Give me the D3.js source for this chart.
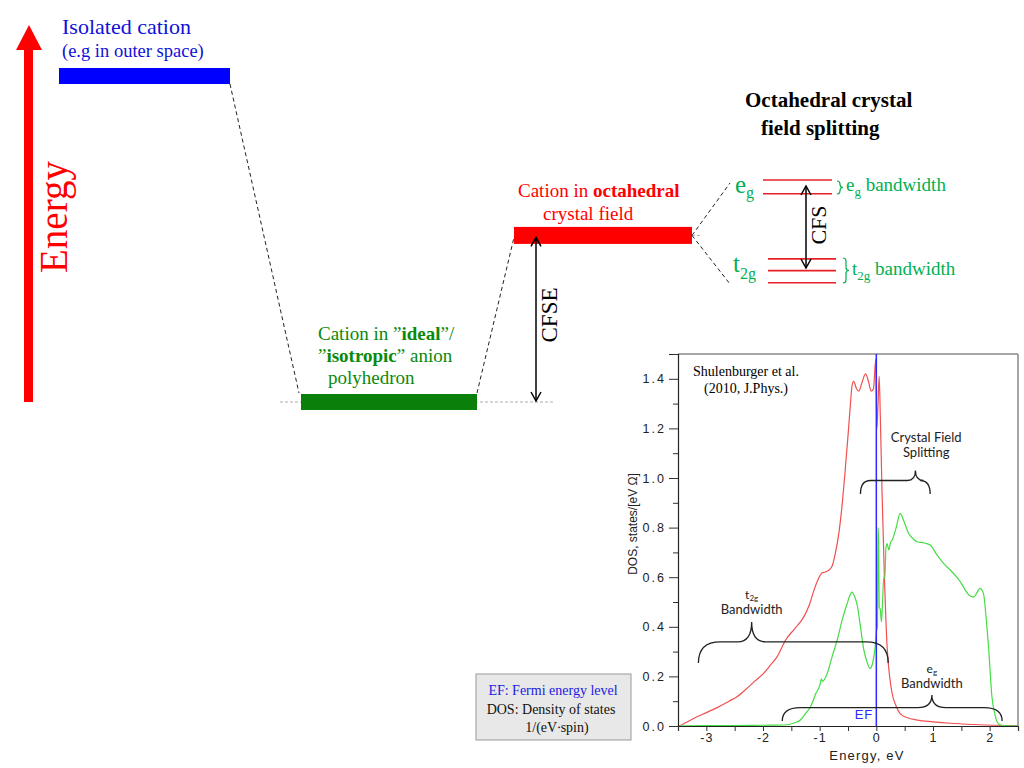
<!DOCTYPE html>
<html><head><meta charset="utf-8">
<script src="https://cdn.jsdelivr.net/npm/d3@7"></script>
<style>body{margin:0;background:#fff;} svg{display:block;}</style>
</head><body>
<svg id="c" width="1024" height="768"></svg>
<script>
// ---------------- DATA ----------------
// DOS curves (energy in eV, DOS in states/[eV Ω])
const redEnergy = [-3.5,-3.45,-3.35,-3.2,-3.0,-2.8,-2.6,-2.46,-2.3,-2.15,-1.99,-1.87,-1.75,-1.6,-1.45,-1.28,-1.18,-1.1,-1.03,-0.96,-0.9,-0.84,-0.78,-0.72,-0.66,-0.6,-0.55,-0.5,-0.46,-0.43,-0.4,-0.35,-0.31,-0.26,-0.19,-0.14,-0.09,-0.05,-0.01,0.01,0.03,0.05,0.07,0.1,0.14,0.19,0.24,0.28,0.35,0.42,0.55,0.72,1.0,1.3,1.7,2.07,2.5];
const redDos    = [0,0.003,0.015,0.033,0.054,0.075,0.1,0.118,0.148,0.18,0.212,0.245,0.28,0.347,0.39,0.44,0.49,0.548,0.59,0.617,0.621,0.628,0.645,0.7,0.78,0.9,1.03,1.17,1.29,1.37,1.39,1.36,1.35,1.38,1.42,1.39,1.35,1.36,1.48,1.2,1.3,1.41,1.25,0.95,0.62,0.32,0.19,0.13,0.08,0.05,0.033,0.024,0.017,0.011,0.006,0.003,0.001];
const greenEnergy = [-3.5,-3.0,-2.5,-2.0,-1.63,-1.45,-1.34,-1.25,-1.16,-1.07,-0.99,-0.97,-0.95,-0.87,-0.78,-0.69,-0.6,-0.52,-0.46,-0.43,-0.38,-0.34,-0.28,-0.22,-0.16,-0.11,-0.07,-0.02,0.0,0.02,0.03,0.04,0.05,0.07,0.09,0.11,0.13,0.15,0.17,0.19,0.22,0.25,0.28,0.35,0.42,0.48,0.57,0.65,0.72,0.85,0.95,1.07,1.19,1.3,1.42,1.5,1.57,1.65,1.72,1.78,1.83,1.89,1.94,1.98,2.04,2.09,2.13,2.2,2.5];
const greenDos    = [0,0.002,0.002,0.003,0.004,0.012,0.024,0.05,0.078,0.13,0.17,0.19,0.18,0.21,0.28,0.347,0.43,0.49,0.53,0.54,0.52,0.49,0.4,0.306,0.255,0.232,0.25,0.32,0.38,0.4,0.8,0.75,0.48,0.47,0.42,0.5,0.6,0.595,0.72,0.735,0.71,0.74,0.75,0.8,0.857,0.83,0.776,0.755,0.743,0.738,0.73,0.69,0.655,0.63,0.6,0.575,0.548,0.525,0.52,0.54,0.555,0.535,0.43,0.32,0.118,0.05,0.017,0.003,0];
const fermiEnergy = 0;
const yTickValues = [0,0.2,0.4,0.6,0.8,1.0,1.2,1.4];
const yMinorValues = [0.1,0.3,0.5,0.7,0.9,1.1,1.3,1.5];
const xTickValues = [-3,-2,-1,0,1,2];
const xMinorValues = [-3.5,-2.5,-1.5,-0.5,0.5,1.5,2.5];
// schematic energy levels (relative units)
const levelNames  = ["isolated","ideal","octahedral"];
const levelEnergy = [1.0, 0.0, 0.511];
const egLevels  = [0.681, 0.639];
const t2gLevels = [0.439, 0.403, 0.366];

// ---------------- DRAW ----------------
const svg = d3.select("#c");
const serif = "'Liberation Serif','Times New Roman',serif";
const sans  = "'Liberation Sans',Arial,sans-serif";
const cal   = "Lato,'Open Sans',sans-serif";
const egGreen = "#00b050";

// ---- schematic ----
const yLev = d3.scaleLinear().domain([0,1]).range([402,76]);
const bars = [
  {x0:59,  x1:230, h:16, color:"#0000ff"},
  {x0:301, x1:477, h:16, color:"#0a800a"},
  {x0:514, x1:692, h:17, color:"#ff0000"}
];
// energy arrow
svg.append("path")
  .attr("d","M24,402 L24,50 L16,50 L29,25 L42,50 L33,50 L33,402 Z")
  .attr("fill","#ff0000");
svg.append("text").attr("transform","translate(67,217) rotate(-90)")
  .attr("text-anchor","middle").attr("font-family",serif).attr("font-size",39)
  .attr("fill","#ff0000").text("Energy");

// grey reference dashed lines
svg.append("line").attr("x1",280).attr("x2",553).attr("y1",yLev(0)).attr("y2",yLev(0))
  .attr("stroke","#999").attr("stroke-width",0.8).attr("stroke-dasharray","3,2");
svg.append("line").attr("x1",692).attr("x2",702).attr("y1",yLev(0.511)).attr("y2",yLev(0.511))
  .attr("stroke","#999").attr("stroke-width",0.8).attr("stroke-dasharray","3,2");

// bars
levelEnergy.forEach((e,i)=>{
  const b = bars[i];
  svg.append("rect").attr("x",b.x0).attr("y",yLev(e)-b.h/2).attr("width",b.x1-b.x0).attr("height",b.h).attr("fill",b.color);
});

// dashed connectors
const dash = (x1,y1,x2,y2)=>svg.append("line").attr("x1",x1).attr("y1",y1).attr("x2",x2).attr("y2",y2)
  .attr("stroke","#222").attr("stroke-width",1).attr("stroke-dasharray","4,3");
dash(230, yLev(1)+8, 299, yLev(0)-9);
dash(477, yLev(0)-9, 514, yLev(0.511)+2);
dash(692, yLev(0.511), 730, 183);
dash(692, yLev(0.511), 730, 284);

// double arrows
function dArrow(x, yTop, yBot){
  const g = svg.append("g").attr("stroke","#000").attr("fill","none").attr("stroke-width",1.5);
  g.append("line").attr("x1",x).attr("x2",x).attr("y1",yTop).attr("y2",yBot);
  g.append("path").attr("d",`M${x-5},${yTop+9} L${x},${yTop} L${x+5},${yTop+9}`);
  g.append("path").attr("d",`M${x-5},${yBot-9} L${x},${yBot} L${x+5},${yBot-9}`);
}
dArrow(536, yLev(0.511)+2, yLev(0)-1);
svg.append("text").attr("transform","translate(557,315) rotate(-90)")
  .attr("text-anchor","middle").attr("font-family",serif).attr("font-size",23).text("CFSE");

// texts
svg.append("text").attr("x",62).attr("y",34).attr("font-family",serif).attr("font-size",22).attr("fill","#1010d8").text("Isolated cation");
svg.append("text").attr("x",62).attr("y",57).attr("font-family",serif).attr("font-size",18.5).attr("fill","#1010d8").text("(e.g in outer space)");

const tOct = svg.append("text").attr("x",518).attr("y",197).attr("font-family",serif).attr("font-size",19).attr("fill","#ff0000");
tOct.append("tspan").text("Cation in ");
tOct.append("tspan").attr("font-weight","bold").text("octahedral");
svg.append("text").attr("x",543).attr("y",220).attr("font-family",serif).attr("font-size",19).attr("fill","#ff0000").text("crystal field");

const gCol = "#0a8a0a";
const t1 = svg.append("text").attr("x",318).attr("y",340).attr("font-family",serif).attr("font-size",19).attr("fill",gCol);
t1.append("tspan").text("Cation in ”");
t1.append("tspan").attr("font-weight","bold").text("ideal");
t1.append("tspan").text("”/");
const t2 = svg.append("text").attr("x",318).attr("y",362).attr("font-family",serif).attr("font-size",19).attr("fill",gCol);
t2.append("tspan").text("”");
t2.append("tspan").attr("font-weight","bold").text("isotropic");
t2.append("tspan").text("” anion");
svg.append("text").attr("x",328).attr("y",384).attr("font-family",serif).attr("font-size",19).attr("fill",gCol).text("polyhedron");

svg.append("text").attr("x",745).attr("y",107).attr("font-family",serif).attr("font-size",21).attr("font-weight","bold").text("Octahedral crystal");
svg.append("text").attr("x",761).attr("y",135).attr("font-family",serif).attr("font-size",21).attr("font-weight","bold").text("field splitting");

// splitting levels
egLevels.forEach(e=>{
  svg.append("line").attr("x1",763).attr("x2",832).attr("y1",yLev(e)).attr("y2",yLev(e)).attr("stroke","#e8202a").attr("stroke-width",1.6);
});
t2gLevels.forEach(e=>{
  svg.append("line").attr("x1",768).attr("x2",836).attr("y1",yLev(e)).attr("y2",yLev(e)).attr("stroke","#e8202a").attr("stroke-width",1.6);
});
dArrow(806, 186, 268);
svg.append("text").attr("transform","translate(826,225) rotate(-90)")
  .attr("text-anchor","middle").attr("font-family",serif).attr("font-size",22).text("CFS");

const eg = svg.append("text").attr("x",735).attr("y",193).attr("font-family",serif).attr("font-size",25).attr("fill",egGreen);
eg.append("tspan").text("e");
eg.append("tspan").attr("font-size",16).attr("dy",5).text("g");
const t2g = svg.append("text").attr("x",733).attr("y",272).attr("font-family",serif).attr("font-size",25).attr("fill",egGreen);
t2g.append("tspan").text("t");
t2g.append("tspan").attr("font-size",16).attr("dy",7).text("2g");

function vBrace(x0, yTop, yBot, w, color){
  const xm = x0 + w/2, x1 = x0 + w, ym = (yTop+yBot)/2, r = Math.min(3,(yBot-yTop)/4);
  svg.append("path").attr("d",
    `M${x0},${yTop} Q${xm},${yTop} ${xm},${yTop+r} L${xm},${ym-r} Q${xm},${ym} ${x1},${ym} Q${xm},${ym} ${xm},${ym+r} L${xm},${yBot-r} Q${xm},${yBot} ${x0},${yBot}`)
    .attr("fill","none").attr("stroke",color).attr("stroke-width",1.2);
}
vBrace(837, 181, 194, 6, egGreen);
vBrace(843, 258, 283, 6, egGreen);
const egb = svg.append("text").attr("x",846).attr("y",191).attr("font-family",serif).attr("font-size",19).attr("fill",egGreen);
egb.append("tspan").text("e");
egb.append("tspan").attr("font-size",13).attr("dy",5).text("g");
egb.append("tspan").attr("dy",-5).text(" bandwidth");
const t2b = svg.append("text").attr("x",852).attr("y",275).attr("font-family",serif).attr("font-size",19).attr("fill",egGreen);
t2b.append("tspan").text("t");
t2b.append("tspan").attr("font-size",13).attr("dy",5).text("2g");
t2b.append("tspan").attr("dy",-5).text(" bandwidth");

// ---- DOS plot ----
const x = d3.scaleLinear().domain([-3.5,2.5]).range([678,1018]);
const y = d3.scaleLinear().domain([0,1.5]).range([726,354]);

// frame
svg.append("line").attr("x1",x(-3.5)).attr("x2",x(2.5)).attr("y1",y(1.5)).attr("y2",y(1.5)).attr("stroke","#888").attr("stroke-width",1.5);
svg.append("line").attr("x1",x(2.5)).attr("x2",x(2.5)).attr("y1",y(1.5)).attr("y2",y(0)).attr("stroke","#888").attr("stroke-width",1.5);

const line = d3.line().x(d=>x(d[0])).y(d=>y(d[1])).curve(d3.curveMonotoneX);
svg.append("path").datum(redEnergy.map((e,i)=>[e,redDos[i]])).attr("d",line)
  .attr("fill","none").attr("stroke","#f05050").attr("stroke-width",1.2);
svg.append("path").datum(greenEnergy.map((e,i)=>[e,greenDos[i]])).attr("d",line)
  .attr("fill","none").attr("stroke","#44dd44").attr("stroke-width",1.2);

svg.append("line").attr("x1",x(fermiEnergy)).attr("x2",x(fermiEnergy)).attr("y1",y(0)).attr("y2",y(1.5))
  .attr("stroke","#2a2aff").attr("stroke-width",1.5);

// axes
const yAxis = svg.append("g").attr("transform",`translate(${x(-3.5)},0)`)
  .call(d3.axisLeft(y).tickValues(yTickValues).tickSize(9).tickPadding(3).tickFormat(d3.format(".1f")));
svg.append("g").attr("transform",`translate(${x(-3.5)},0)`)
  .call(d3.axisLeft(y).tickValues(yMinorValues).tickSize(5).tickFormat(""))
  .call(g=>g.select(".domain").remove());
const xAxis = svg.append("g").attr("transform",`translate(0,${y(0)})`)
  .call(d3.axisBottom(x).tickValues(xTickValues).tickSize(5).tickPadding(2).tickFormat(d3.format("d")));
svg.append("g").attr("transform",`translate(0,${y(0)})`)
  .call(d3.axisBottom(x).tickValues(xMinorValues).tickSize(5).tickFormat(""))
  .call(g=>g.select(".domain").remove());
svg.selectAll(".tick line").attr("stroke","#333");
svg.selectAll(".domain").attr("stroke","#222").attr("stroke-width",1.2);
yAxis.selectAll("text").attr("font-family",sans).attr("font-size",12.5).attr("letter-spacing","2px").attr("fill","#222");
xAxis.selectAll("text").attr("font-family",sans).attr("font-size",12.5).attr("letter-spacing","1px").attr("fill","#222")
  .text(d=>d<0 ? "-"+Math.abs(d) : d);

svg.append("text").attr("x",867).attr("y",760).attr("text-anchor","middle").attr("font-family",sans)
  .attr("font-size",13).attr("letter-spacing","1.2px").attr("fill","#222").text("Energy, eV");
svg.append("text").attr("transform","translate(637,524) rotate(-90)").attr("text-anchor","middle")
  .attr("font-family",sans).attr("font-size",12).attr("fill","#222").text("DOS, states/[eV Ω]");

svg.append("text").attr("x",x(fermiEnergy)-3).attr("y",719).attr("text-anchor","end").attr("font-family",sans)
  .attr("font-size",13).attr("letter-spacing","1px").attr("fill","#2a2aff").text("EF");

svg.append("text").attr("x",746).attr("y",376).attr("text-anchor","middle").attr("font-family",serif).attr("font-size",14).text("Shulenburger et al.");
svg.append("text").attr("x",746).attr("y",393).attr("text-anchor","middle").attr("font-family",serif).attr("font-size",14).text("(2010, J.Phys.)");

// braces in plot (data coordinates)
function hBrace(e1, e2, vEnd, vLine, ep, vp, r, rp){
  const x1=x(e1), x2=x(e2), yE=y(vEnd), yL=y(vLine), xp=x(ep), yp=y(vp);
  svg.append("path").attr("d",
    `M${x1},${yE} Q${x1},${yL} ${x1+r},${yL} L${xp-rp},${yL} Q${xp},${yL} ${xp},${yp} Q${xp},${yL} ${xp+rp},${yL} L${x2-r},${yL} Q${x2},${yL} ${x2},${yE}`)
    .attr("fill","none").attr("stroke","#222").attr("stroke-width",1.3);
}
hBrace(-3.14, 0.21, 0.254, 0.339, -2.2, 0.419, 22, 14);
hBrace(-0.28, 0.95, 0.935, 0.99, 0.69, 1.03, 10, 8);
hBrace(-1.66, 2.22, 0.02, 0.074, 0.98, 0.125, 18, 14);

const ann = (xx,yy,txt)=>svg.append("text").attr("x",xx).attr("y",yy).attr("text-anchor","middle")
  .attr("font-family",cal).attr("font-size",13).attr("fill","#222").text(txt);
ann(x(0.88),442,"Crystal Field");
ann(x(0.88),457,"Splitting");
const tt = svg.append("text").attr("x",x(-2.2)).attr("y",599).attr("text-anchor","middle").attr("font-family",cal).attr("font-size",12).attr("fill","#222");
tt.append("tspan").text("t");
tt.append("tspan").attr("font-size",8).attr("dy",2).text("2g");
ann(x(-2.2),614,"Bandwidth");
const te = svg.append("text").attr("x",x(0.98)).attr("y",673).attr("text-anchor","middle").attr("font-family",cal).attr("font-size",12).attr("fill","#222");
te.append("tspan").text("e");
te.append("tspan").attr("font-size",8).attr("dy",2).text("g");
ann(x(0.98),688,"Bandwidth");

// legend box
svg.append("rect").attr("x",476).attr("y",674).attr("width",155).attr("height",66).attr("fill","#e8e8e8").attr("stroke","#999");
svg.append("text").attr("x",553).attr("y",695).attr("text-anchor","middle").attr("font-family",serif).attr("font-size",14).attr("fill","#2020e0").text("EF: Fermi energy level");
svg.append("text").attr("x",551).attr("y",714).attr("text-anchor","middle").attr("font-family",serif).attr("font-size",14).attr("fill","#111").text("DOS: Density of states");
svg.append("text").attr("x",557).attr("y",732).attr("text-anchor","middle").attr("font-family",serif).attr("font-size",14).attr("fill","#111").text("1/(eV∙spin)");
</script>
</body></html>
